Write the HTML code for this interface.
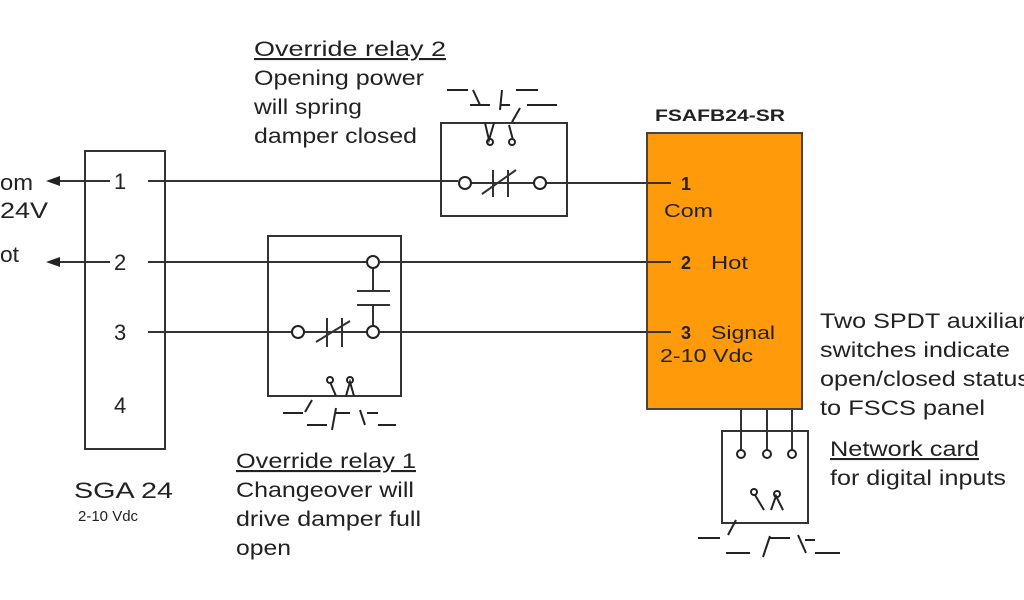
<!DOCTYPE html>
<html><head><style>
html,body{margin:0;padding:0;background:#fff;}
svg{display:block;}
text{font-family:"Liberation Sans",Arial,sans-serif;fill:#222;}
</style></head><body>
<svg width="1024" height="600" viewBox="0 0 1024 600" xmlns="http://www.w3.org/2000/svg">
<g stroke="#333" stroke-width="2" fill="none">
<rect x="85" y="151" width="80" height="298"/>
<line x1="58" y1="181" x2="110" y2="181"/>
<line x1="58" y1="262" x2="110" y2="262"/>
<line x1="148" y1="181" x2="458" y2="181"/>
<line x1="546" y1="183" x2="671" y2="183"/>
<line x1="148" y1="262" x2="367" y2="262"/>
<line x1="380" y1="262" x2="671" y2="262"/>
<line x1="148" y1="332" x2="292" y2="332"/>
<line x1="380" y1="332" x2="671" y2="332"/>
<rect x="441" y="123" width="126" height="93"/>
<line x1="471" y1="183" x2="534" y2="183"/>
<line x1="493" y1="170" x2="493" y2="197"/>
<line x1="508" y1="170" x2="508" y2="197"/>
<line x1="482" y1="194" x2="516" y2="170"/>
<rect x="268" y="236" width="133" height="160"/>
<line x1="304" y1="332" x2="367" y2="332"/>
<line x1="327" y1="318" x2="327" y2="347"/>
<line x1="342" y1="318" x2="342" y2="347"/>
<line x1="316" y1="342" x2="350" y2="321"/>
<line x1="373" y1="268" x2="373" y2="290"/>
<line x1="357" y1="291" x2="390" y2="291"/>
<line x1="357" y1="305" x2="390" y2="305"/>
<line x1="373" y1="305" x2="373" y2="326"/>
<rect x="722" y="431" width="86" height="92"/>
<line x1="741" y1="395" x2="741" y2="450"/>
<line x1="767" y1="395" x2="767" y2="450"/>
<line x1="792" y1="395" x2="792" y2="450"/>
</g>
<rect x="647" y="133" width="155" height="276" fill="#ff9a0a" stroke="#444" stroke-width="2"/>
<g stroke="#333" stroke-width="2">
<line x1="647" y1="183" x2="671" y2="183"/>
<line x1="647" y1="262" x2="671" y2="262"/>
<line x1="647" y1="332" x2="671" y2="332"/>
</g>
<g stroke="#222" stroke-width="2" fill="#fff">
<circle cx="465" cy="183" r="6"/><circle cx="540" cy="183" r="6"/>
<circle cx="373" cy="262" r="6"/><circle cx="373" cy="332" r="6"/><circle cx="298" cy="332" r="6"/>
<circle cx="741" cy="454" r="4"/><circle cx="767" cy="454" r="4"/><circle cx="792" cy="454" r="4"/>
</g>
<polygon points="46,181 60,176 60,186" fill="#222"/>
<polygon points="46,262 60,257 60,267" fill="#222"/>
<g stroke="#222" stroke-width="2" fill="none">
<line x1="447" y1="90" x2="468" y2="90"/><line x1="473" y1="90" x2="480" y2="105"/><line x1="470" y1="105" x2="490" y2="105"/><line x1="502" y1="90" x2="500" y2="110"/><line x1="500" y1="105" x2="510" y2="105"/><line x1="516" y1="90" x2="538" y2="90"/><line x1="527" y1="105" x2="557" y2="105"/><line x1="520" y1="108" x2="512" y2="122"/>
<path d="M485 123 L489 140 L494 123 M509 125 L513 140"/>
<circle cx="490" cy="142" r="3"/><circle cx="512" cy="142" r="3"/>
<line x1="283" y1="413" x2="303" y2="413"/><line x1="312" y1="400" x2="305" y2="412"/><line x1="307" y1="425" x2="327" y2="425"/><line x1="336" y1="408" x2="332" y2="430"/><line x1="336" y1="413" x2="350" y2="413"/><line x1="360" y1="410" x2="365" y2="425"/><line x1="367" y1="413" x2="378" y2="413"/><line x1="378" y1="425" x2="396" y2="425"/>
<path d="M330 382 L336 396 M346 396 L350 382 L354 396"/>
<circle cx="330" cy="380" r="3"/><circle cx="350" cy="380" r="3"/>
<line x1="698" y1="538" x2="720" y2="538"/><line x1="736" y1="520" x2="728" y2="535"/><line x1="726" y1="553" x2="750" y2="553"/><line x1="770" y1="536" x2="763" y2="557"/><line x1="770" y1="538" x2="790" y2="538"/><line x1="798" y1="535" x2="806" y2="553"/><line x1="805" y1="540" x2="815" y2="540"/><line x1="815" y1="553" x2="840" y2="553"/>
<path d="M755 495 L764 510 M771 510 L776 496 L783 510"/>
<circle cx="754" cy="492" r="3"/><circle cx="777" cy="494" r="3"/>
</g>
<g font-size="22">
<text x="114" y="189">1</text><text x="114" y="270">2</text><text x="114" y="340">3</text><text x="114" y="413">4</text>
<text x="0" y="190" textLength="33" lengthAdjust="spacingAndGlyphs">om</text><text x="0" y="218" textLength="48" lengthAdjust="spacingAndGlyphs">24V</text><text x="0" y="262" textLength="19" lengthAdjust="spacingAndGlyphs">ot</text>
<text x="74" y="498" textLength="99" lengthAdjust="spacingAndGlyphs">SGA 24</text>
</g>
<text x="78" y="521" font-size="15">2-10 Vdc</text>
<g font-size="21">
<text x="254" y="56" text-decoration="underline" textLength="192" lengthAdjust="spacingAndGlyphs">Override relay 2</text>
<text x="254" y="85" textLength="170" lengthAdjust="spacingAndGlyphs">Opening power</text>
<text x="254" y="114" textLength="108" lengthAdjust="spacingAndGlyphs">will spring</text>
<text x="254" y="143" textLength="163" lengthAdjust="spacingAndGlyphs">damper closed</text>
<text x="236" y="468" text-decoration="underline" textLength="180" lengthAdjust="spacingAndGlyphs">Override relay 1</text>
<text x="236" y="497" textLength="178" lengthAdjust="spacingAndGlyphs">Changeover will</text>
<text x="236" y="526" textLength="185" lengthAdjust="spacingAndGlyphs">drive damper full</text>
<text x="236" y="555" textLength="55" lengthAdjust="spacingAndGlyphs">open</text>
<text x="820" y="328" textLength="219" lengthAdjust="spacingAndGlyphs">Two SPDT auxiliary</text>
<text x="820" y="357" textLength="190" lengthAdjust="spacingAndGlyphs">switches indicate</text>
<text x="820" y="386" textLength="210" lengthAdjust="spacingAndGlyphs">open/closed status</text>
<text x="820" y="415" textLength="165" lengthAdjust="spacingAndGlyphs">to FSCS panel</text>
<text x="830" y="456" text-decoration="underline" textLength="149" lengthAdjust="spacingAndGlyphs">Network card</text>
<text x="830" y="485" textLength="176" lengthAdjust="spacingAndGlyphs">for digital inputs</text>
</g>
<text x="655" y="121" font-size="17" font-weight="bold" textLength="130" lengthAdjust="spacingAndGlyphs">FSAFB24-SR</text>
<g font-size="18">
<text x="681" y="190" font-weight="bold">1</text>
<text x="664" y="217" textLength="49" lengthAdjust="spacingAndGlyphs">Com</text>
<text x="681" y="269" font-weight="bold">2</text><text x="711" y="269" textLength="37" lengthAdjust="spacingAndGlyphs">Hot</text>
<text x="681" y="339" font-weight="bold">3</text><text x="711" y="339" textLength="64" lengthAdjust="spacingAndGlyphs">Signal</text>
<text x="660" y="362" textLength="93" lengthAdjust="spacingAndGlyphs">2-10 Vdc</text>
</g>
</svg>
</body></html>
